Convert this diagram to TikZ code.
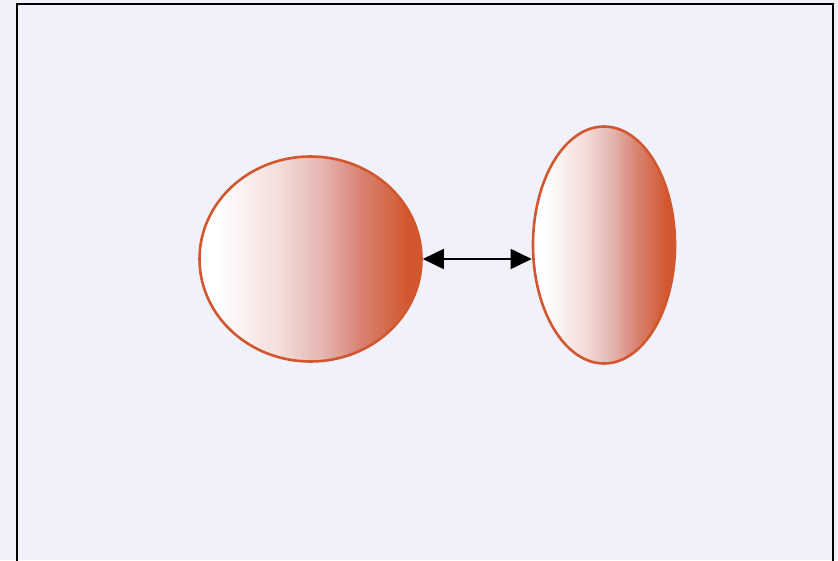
\documentclass[tikz,border=0pt]{standalone}
\usepackage{xcolor}
\usetikzlibrary{arrows.meta,positioning,shapes.geometric}

\definecolor{bgpaper}{HTML}{F0F1FA}
\definecolor{rust}{HTML}{D2572E}
\definecolor{blushlight}{HTML}{F3DDDA}
\definecolor{blush}{HTML}{E4B3AF}
\definecolor{blushdeep}{HTML}{D98475}

\pgfdeclarehorizontalshading{blobfade}{100bp}{
    color(0bp)=(white); color(29bp)=(white);
    color(43bp)=(blushlight); color(53bp)=(blush);
    color(61bp)=(blushdeep); color(72bp)=(rust); color(100bp)=(rust)}

\begin{document}
\begin{tikzpicture}[
    x=1pt,
    y=-1pt,
    blob/.style={
        ellipse,
        draw=rust,
        line width=2.6pt,
        inner sep=0pt,
        shading=blobfade
    },
    link/.style={{Triangle[length=21pt,width=20pt]}-{Triangle[length=21pt,width=20pt]}, line width=1.8pt, draw=black}
]

\fill[bgpaper] (0,0) rectangle (838,560);
\useasboundingbox (0,0) rectangle (838,560);
\draw[line width=2pt] (17,570) -- (17,4) -- (833,4) -- (833,570);

\node[blob, minimum width=222pt, minimum height=205pt] (left) at (310.5,259) {};
\node[blob, minimum width=142pt, minimum height=237pt] (right) at (604,245) {};

\draw[link] (left.east) -- (left.east -| right.west);

\end{tikzpicture}
\end{document}
